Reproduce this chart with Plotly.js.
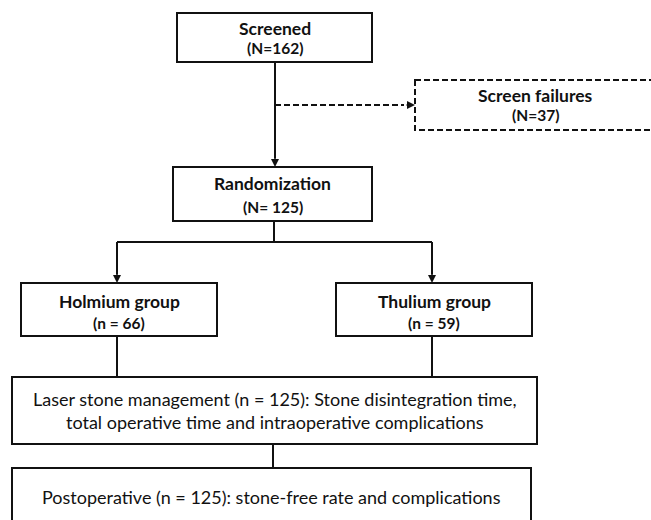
<!DOCTYPE html>
<html>
<head>
<meta charset="utf-8">
<script src="https://cdn.plot.ly/plotly-3.0.1.min.js"></script>
<style>html,body{margin:0;padding:0;background:#fff;}</style>
</head>
<body>
<div id="chart" style="width:651px;height:520px;"></div>
<script>
// ---- data ----
const stageNames = ["Screened", "Screen failures", "Randomization", "Holmium group", "Thulium group"];
const stageCounts = ["N=162", "N=37", "N= 125", "n = 66", "n = 59"];
const laserLines = ["Laser stone management (n = 125): Stone disintegration time,", "total operative time and intraoperative complications"];
const postopLine = ["Postoperative (n = 125): stone-free rate and complications"];

// ---- layout geometry (pixels) ----
const boxes = [
  {x0:177, x1:372, y0:13,  y1:62,  dash:'solid'},   // Screened
  {x0:415, x1:656, y0:80,  y1:130, dash:'6px,3px'}, // Screen failures
  {x0:173, x1:372, y0:167, y1:221, dash:'solid'},   // Randomization
  {x0:21,  x1:217, y0:283, y1:336, dash:'solid'},   // Holmium
  {x0:336, x1:532, y0:283, y1:336, dash:'solid'},   // Thulium
  {x0:12,  x1:537, y0:377, y1:444, dash:'solid'},   // Laser
  {x0:12,  x1:531, y0:468, y1:530, dash:'solid'}    // Postoperative
];
const FONT = 'Lato, "Open Sans", sans-serif';
const shapes = [];
const annotations = [];
const lw = 2;
boxes.forEach(b => shapes.push({type:'rect', xref:'x', yref:'y', x0:b.x0, x1:b.x1, y0:b.y0, y1:b.y1,
  line:{color:'#111', width:lw, dash:b.dash}, fillcolor:'rgba(0,0,0,0)'}));
function line(x0,y0,x1,y1,dash){shapes.push({type:'line', xref:'x', yref:'y', x0, y0, x1, y1, line:{color:'#111', width:lw, dash:dash||'solid'}});}
function arrow(x,y,ax,ay){annotations.push({x, y, ax, ay, xref:'x', yref:'y', axref:'x', ayref:'y', text:'', showarrow:true, arrowhead:2, arrowsize:1, arrowwidth:1.6, arrowcolor:'#111', standoff:0, startstandoff:0});}

// connectors
line(275,62,275,158);  arrow(275,167,275,156);
line(275,105,404,105,'6px,3px'); arrow(415,105,405,105);
line(274,221,274,242);
line(117,242,432,242);
line(117,242,117,274); arrow(117,283,117,272);
line(432,242,432,274); arrow(432,283,432,272);
line(117,336,117,377);
line(432,336,432,377);
line(273,444,273,468);

// box texts
const titlePos = [[28,48],[95,115],[183,207],[301,323],[301,323]];
const centers = [274.5, 535, 272.5, 119, 434];
stageNames.forEach((n,i) => {
  annotations.push({x:centers[i], y:titlePos[i][0], xref:'x', yref:'y', text:'<b>'+n+'</b>', showarrow:false,
    font:{family:FONT, size:17.5, color:'#111'}, xanchor:'center', yanchor:'middle'});
  annotations.push({x:centers[i], y:titlePos[i][1], xref:'x', yref:'y', text:'<b>('+stageCounts[i]+')</b>', showarrow:false,
    font:{family:FONT, size:15.5, color:'#111'}, xanchor:'center', yanchor:'middle'});
});
const laserY = [399, 422];
laserLines.forEach((t,i) => annotations.push({x:274.5, y:laserY[i], xref:'x', yref:'y', text:t, showarrow:false,
  font:{family:FONT, size:18, color:'#111'}, xanchor:'center', yanchor:'middle'}));
annotations.push({x:271, y:497, xref:'x', yref:'y', text:postopLine[0], showarrow:false,
  font:{family:FONT, size:18, color:'#111'}, xanchor:'center', yanchor:'middle'});

Plotly.newPlot('chart', [], {
  width:651, height:520, margin:{l:0,r:0,t:0,b:0},
  paper_bgcolor:'#fff', plot_bgcolor:'#fff',
  xaxis:{range:[0,651], visible:false, fixedrange:true},
  yaxis:{range:[520,0], visible:false, fixedrange:true},
  shapes, annotations, showlegend:false
}, {displayModeBar:false, staticPlot:true});
</script>
</body>
</html>
